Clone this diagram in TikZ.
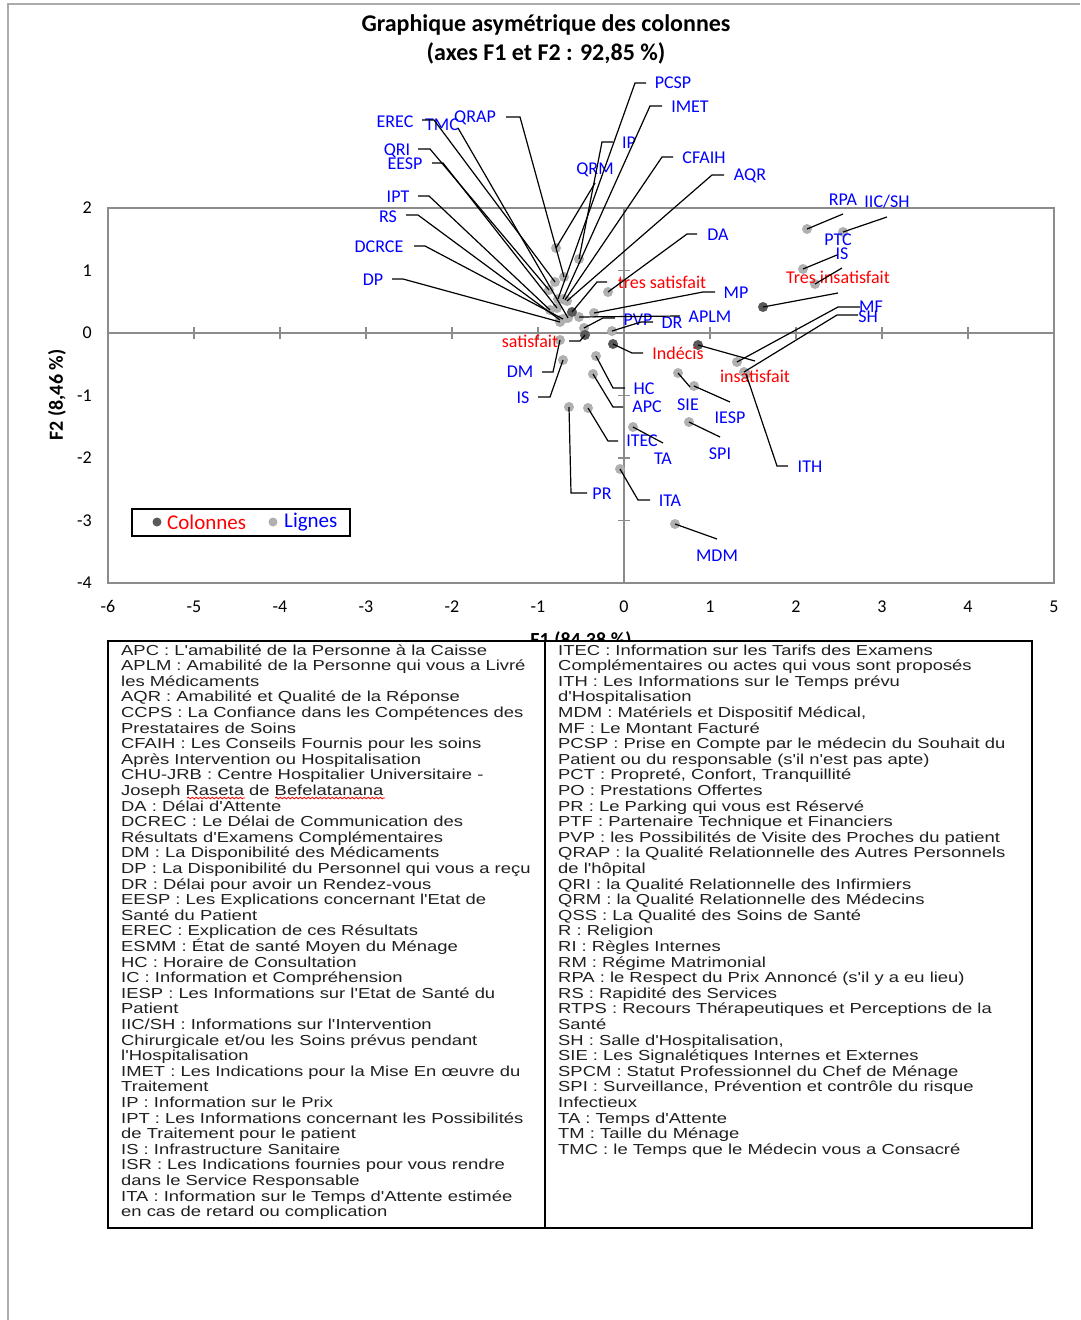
\documentclass[tikz,border=0pt]{standalone}
\usepackage{fontspec}
\setmainfont{Carlito}
\newfontfamily\tabfont[FakeStretch=1.27]{Liberation Sans}
\usetikzlibrary{decorations.pathmorphing}
\definecolor{ptlight}{HTML}{B0B0B0}
\definecolor{ptdark}{HTML}{595959}
\definecolor{lblue}{HTML}{0000FF}
\definecolor{lred}{HTML}{FF0000}
\definecolor{axisgray}{HTML}{8C8C8C}
\definecolor{framegray}{HTML}{ABABAB}
\definecolor{tabtext}{HTML}{202020}
\tikzset{
  lp/.style={circle, fill=ptlight, inner sep=0pt, minimum size=10pt},
  dp/.style={circle, fill=ptdark, inner sep=0pt, minimum size=10pt},
  bl/.style={text=lblue, font=\fontsize{18}{20}\selectfont, inner sep=0pt, text height=11.6pt, text depth=0pt},
  rl/.style={text=lred, font=\fontsize{18}{20}\selectfont, inner sep=0pt, text height=11.6pt, text depth=0pt},
  leader/.style={draw=black, line width=1.2pt},
  ticklbl/.style={font=\fontsize{18}{20}\selectfont, inner sep=0pt, text height=11.6pt, text depth=0pt},
  tabline/.style={font=\tabfont\fontsize{14.5}{15.6}\selectfont, text=tabtext, inner sep=0pt, anchor=base west},
}
\begin{document}
\begin{tikzpicture}[x=1pt,y=-1pt]
\useasboundingbox (0,0) rectangle (1080,1320);
\fill[white] (0,0) rectangle (1080,1320);
\draw[framegray, line width=1.5pt] (8,1320) -- (8,4) -- (1080,4);

% title
\node[font=\fontsize{24}{28}\selectfont\bfseries, inner sep=0pt] (title1) at (546,25) {Graphique asymétrique des colonnes};
\node[font=\fontsize{24}{28}\selectfont\bfseries, inner sep=0pt] (title2) at (546,53) {(axes F1 et F2 : 92,85 \%)};

% plot frame and axes
\draw[axisgray, line width=1.5pt] (108,208) rectangle (1054,583);
\draw[axisgray, line width=1.3pt] (108,333) -- (1054,333);
\draw[axisgray, line width=1.3pt] (624,208) -- (624,583);
\foreach \k in {-6,...,5} \draw[axisgray, line width=1.2pt] ({624+86*\k},327) -- ({624+86*\k},339);
\foreach \k in {-4,...,2} \draw[axisgray, line width=1.2pt] (618,{333-62.5*\k}) -- (630,{333-62.5*\k});
\foreach \k in {-4,...,2} \node[ticklbl, anchor=east] (ty\k) at (92,{333-62.5*\k}) {\k};
\foreach \k in {-6,...,5} \node[ticklbl] (tx\k) at ({624+86*\k},607) {\k};
\node[font=\fontsize{20}{22}\selectfont\bfseries, rotate=90, inner sep=0pt] (f2title) at (57,395) {F2 (8,46 \%)};
\node[font=\fontsize{20}{22}\selectfont\bfseries, inner sep=0pt, anchor=base] (f1title) at (581,646) {F1 (84,38 \%)};

% legend
\node[draw=black, line width=2.5pt, minimum width=218pt, minimum height=27pt, inner sep=0pt] (legend) at (241,522.5) {};
\node[dp, minimum size=9pt] (legdark) at (157,522) {};
\node[text=lred, font=\fontsize{21}{23}\selectfont, inner sep=0pt, anchor=west] (legcol) at (167,522) {Colonnes};
\node[lp, minimum size=9pt] (leglight) at (273,522) {};
\node[text=lblue, font=\fontsize{21}{23}\selectfont, inner sep=0pt, anchor=west] (leglig) at (284,522) {Lignes};

% points (light = lignes)
\node[lp] (p-QRM) at (556,248) {};
\node[lp] (p-IP) at (579,259) {};
\node[lp] (p-QRAP) at (564,277) {};
\node[lp] (p-EREC) at (555,282) {};
\node[lp] (p-QRI) at (549,290) {};
\node[lp] (p-PCSP) at (558,299) {};
\node[lp] (p-IMET) at (563,299) {};
\node[lp] (p-CFAIH) at (565,300) {};
\node[lp] (p-AQR) at (567,301) {};
\node[lp] (p-TMC) at (568,318) {};
\node[lp] (p-EESP) at (557,308) {};
\node[lp] (p-IPT) at (550,310) {};
\node[lp] (p-RS) at (560,320) {};
\node[lp] (p-DCRCE) at (563,319) {};
\node[lp] (p-DP) at (560,322) {};
\node[lp] (p-APLM) at (579,317) {};
\node[lp] (p-MP) at (594,313) {};
\node[lp] (p-PVP) at (584,328) {};
\node[lp] (p-DA) at (608,292) {};
\node[lp] (p-DR) at (612,331) {};
\node[lp] (p-DM) at (560,340) {};
\node[lp] (p-ISl) at (563,360) {};
\node[lp] (p-HC) at (596,356) {};
\node[lp] (p-APC) at (593,374) {};
\node[lp] (p-ITEC) at (588,408) {};
\node[lp] (p-PR) at (569,407) {};
\node[lp] (p-TA) at (633,427) {};
\node[lp] (p-ITA) at (620,469) {};
\node[lp] (p-MDM) at (675,524) {};
\node[lp] (p-SIE) at (678,373) {};
\node[lp] (p-IESP) at (694,386) {};
\node[lp] (p-SPI) at (689,422) {};
\node[lp] (p-MF) at (737,362) {};
\node[lp] (p-SH) at (744,372) {};
\node[lp] (p-ITH) at (746,374) {};
\node[lp] (p-RPA) at (807,229) {};
\node[lp] (p-IICSH) at (843,232) {};
\node[lp] (p-ISr) at (803,269) {};
\node[lp] (p-PTC) at (815,284) {};
% points (dark = colonnes)
\node[dp] (p-TS) at (572,312) {};
\node[dp] (p-S) at (585,335) {};
\node[dp] (p-I) at (613,344) {};
\node[dp] (p-INS) at (698,345) {};
\node[dp] (p-TI) at (763,307) {};

% labels
\node[bl] (l-PCSP) at (673,83) {PCSP};
\node[bl] (l-IMET) at (690,107) {IMET};
\node[bl] (l-IP) at (629,143) {IP};
\node[bl] (l-QRM) at (595,169) {QRM};
\node[bl] (l-CFAIH) at (704,158) {CFAIH};
\node[bl] (l-AQR) at (750,175) {AQR};
\node[bl] (l-DA) at (718,235) {DA};
\node[rl] (l-TS) at (662,283) {tres satisfait};
\node[bl] (l-MP) at (736,293) {MP};
\node[bl] (l-APLM) at (710,317) {APLM};
\node[bl] (l-PVP) at (638,320) {PVP};
\node[bl] (l-DR) at (672,323) {DR};
\node[rl] (l-S) at (530,342) {satisfait};
\node[rl] (l-I) at (678,354) {Indécis};
\node[bl] (l-DM) at (520,372) {DM};
\node[bl] (l-ISl) at (523,398) {IS};
\node[bl] (l-HC) at (644,389) {HC};
\node[bl] (l-APC) at (647,407) {APC};
\node[bl] (l-SIE) at (688,405) {SIE};
\node[bl] (l-IESP) at (730,418) {IESP};
\node[bl] (l-SPI) at (720,454) {SPI};
\node[bl] (l-ITEC) at (642,441) {ITEC};
\node[bl] (l-TA) at (663,459) {TA};
\node[bl] (l-PR) at (602,494) {PR};
\node[bl] (l-ITA) at (670,501) {ITA};
\node[bl] (l-MDM) at (717,556) {MDM};
\node[rl] (l-INS) at (755,377) {insatisfait};
\node[bl] (l-MF) at (871,307) {MF};
\node[bl] (l-SH) at (868,317) {SH};
\node[bl] (l-ITH) at (810,467) {ITH};
\node[rl] (l-TI) at (838,278) {Tres insatisfait};
\node[bl] (l-PTC) at (838,240) {PTC};
\node[bl] (l-ISr) at (842,254) {IS};
\node[bl] (l-RPA) at (843,200) {RPA};
\node[bl] (l-IICSH) at (887,202) {IIC/SH};
\node[bl] (l-EREC) at (395,122) {EREC};
\node[bl] (l-TMC) at (442,125) {TMC};
\node[bl] (l-QRAP) at (475,117) {QRAP};
\node[bl] (l-QRI) at (397,150) {QRI};
\node[bl] (l-EESP) at (405,164) {EESP};
\node[bl] (l-IPT) at (398,197) {IPT};
\node[bl] (l-RS) at (388,217) {RS};
\node[bl] (l-DCRCE) at (379,247) {DCRCE};
\node[bl] (l-DP) at (373,280) {DP};

% leader start coordinates
\coordinate (c-PCSP) at (646,83);
\coordinate (c-IMET) at (662,106);
\coordinate (c-IP) at (613,142);
\coordinate (c-QRM) at (595,183);
\coordinate (c-CFAIH) at (673,157);
\coordinate (c-AQR) at (724,175);
\coordinate (c-DA) at (697,234);
\coordinate (c-TS) at (607,282);
\coordinate (c-MP) at (715,292);
\coordinate (c-APLM) at (680,316);
\coordinate (c-PVP) at (615,318);
\coordinate (c-DR) at (653,322);
\coordinate (c-S) at (569,341);
\coordinate (c-I) at (643,353);
\coordinate (c-DM) at (542,372);
\coordinate (c-ISl) at (538,397);
\coordinate (c-HC) at (625,388);
\coordinate (c-APC) at (623,407);
\coordinate (c-SIE) at (690,387);
\coordinate (c-IESP) at (730,402);
\coordinate (c-SPI) at (720,437);
\coordinate (c-ITEC) at (618,441);
\coordinate (c-TA) at (663,443);
\coordinate (c-PR) at (587,493);
\coordinate (c-ITA) at (650,500);
\coordinate (c-MDM) at (717,539);
\coordinate (c-INS) at (755,361);
\coordinate (c-MF) at (860,307);
\coordinate (c-SH) at (858,315);
\coordinate (c-ITH) at (788,466);
\coordinate (c-TI) at (838,293);
\coordinate (c-PTC) at (842,268);
\coordinate (c-ISr) at (837,255);
\coordinate (c-RPA) at (843,214);
\coordinate (c-IICSH) at (887,217);
\coordinate (c-EREC) at (422,120);
\coordinate (c-TMC) at (458,128);
\coordinate (c-QRAP) at (506,117);
\coordinate (c-QRI) at (418,149);
\coordinate (c-EESP) at (432,163);
\coordinate (c-IPT) at (418,196);
\coordinate (c-RS) at (406,215);
\coordinate (c-DCRCE) at (414,246);
\coordinate (c-DP) at (392,279);

% leaders
\draw[leader] (c-PCSP) -- ++(-11,0) -- (p-PCSP.center);
\draw[leader] (c-IMET) -- ++(-12,0) -- (p-IMET.center);
\draw[leader] (c-IP) -- ++(-11,0) -- (p-IP.center);
\draw[leader] (c-QRM) -- (p-QRM.center);
\draw[leader] (c-CFAIH) -- ++(-11,0) -- (p-CFAIH.center);
\draw[leader] (c-AQR) -- ++(-12,0) -- (p-AQR.center);
\draw[leader] (c-DA) -- ++(-10,0) -- (p-DA.center);
\draw[leader] (c-TS) -- ++(-10,0) -- (p-TS.center);
\draw[leader] (c-MP) -- ++(-12,0) -- (p-MP.center);
\draw[leader] (c-APLM) -- (p-APLM.center);
\draw[leader] (c-PVP) -- ++(-12,0) -- (p-PVP.center);
\draw[leader] (c-DR) -- ++(-12,0) -- (p-DR.center);
\draw[leader] (c-S) -- ++(11,0) -- (p-S.center);
\draw[leader] (c-I) -- ++(-11,0) -- (p-I.center);
\draw[leader] (c-DM) -- ++(11,0) -- (p-DM.center);
\draw[leader] (c-ISl) -- ++(12,0) -- (p-ISl.center);
\draw[leader] (c-HC) -- ++(-12,0) -- (p-HC.center);
\draw[leader] (c-APC) -- ++(-10,0) -- (p-APC.center);
\draw[leader] (c-SIE) -- (p-SIE.center);
\draw[leader] (c-IESP) -- (p-IESP.center);
\draw[leader] (c-SPI) -- (p-SPI.center);
\draw[leader] (c-ITEC) -- ++(-10,0) -- (p-ITEC.center);
\draw[leader] (c-TA) -- (p-TA.center);
\draw[leader] (c-PR) -- ++(-16,0) -- (p-PR.center);
\draw[leader] (c-ITA) -- ++(-12,0) -- (p-ITA.center);
\draw[leader] (c-MDM) -- (p-MDM.center);
\draw[leader] (c-INS) -- (p-INS.center);
\draw[leader] (c-MF) -- ++(-22,0) -- (p-MF.center);
\draw[leader] (c-SH) -- ++(-21,0) -- (p-SH.center);
\draw[leader] (c-ITH) -- ++(-11,0) -- (p-ITH.center);
\draw[leader] (c-TI) -- (p-TI.center);
\draw[leader] (c-PTC) -- (p-PTC.center);
\draw[leader] (c-ISr) -- (p-ISr.center);
\draw[leader] (c-RPA) -- (p-RPA.center);
\draw[leader] (c-IICSH) -- (p-IICSH.center);
\draw[leader] (c-EREC) -- ++(12,0) -- (p-EREC.center);
\draw[leader] (c-TMC) -- (p-TMC.center);
\draw[leader] (c-QRAP) -- ++(14,0) -- (p-QRAP.center);
\draw[leader] (c-QRI) -- ++(12,0) -- (p-QRI.center);
\draw[leader] (c-EESP) -- ++(11,0) -- (p-EESP.center);
\draw[leader] (c-IPT) -- ++(11,0) -- (p-IPT.center);
\draw[leader] (c-RS) -- ++(12,0) -- (p-RS.center);
\draw[leader] (c-DCRCE) -- ++(11,0) -- (p-DCRCE.center);
\draw[leader] (c-DP) -- ++(11,0) -- (p-DP.center);

% table
\draw[fill=white, line width=1.8pt] (108,641) rectangle (1032,1228);
\draw[line width=1.6pt] (545,641) -- (545,1228);
\foreach \t [count=\i] in {
{APC : L'amabilité de la Personne à la Caisse},
{APLM : Amabilité de la Personne qui vous a Livré},
{les Médicaments},
{AQR : Amabilité et Qualité de la Réponse},
{CCPS : La Confiance dans les Compétences des},
{Prestataires de Soins},
{CFAIH : Les Conseils Fournis pour les soins},
{Après Intervention ou Hospitalisation},
{CHU-JRB : Centre Hospitalier Universitaire -},
{Joseph Raseta de Befelatanana},
{DA : Délai d'Attente},
{DCREC : Le Délai de Communication des},
{Résultats d'Examens Complémentaires},
{DM : La Disponibilité des Médicaments},
{DP : La Disponibilité du Personnel qui vous a reçu},
{DR : Délai pour avoir un Rendez-vous},
{EESP : Les Explications concernant l'Etat de},
{Santé du Patient},
{EREC : Explication de ces Résultats},
{ESMM : État de santé Moyen du Ménage},
{HC : Horaire de Consultation},
{IC : Information et Compréhension},
{IESP : Les Informations sur l'Etat de Santé du},
{Patient},
{IIC/SH : Informations sur l'Intervention},
{Chirurgicale et/ou les Soins prévus pendant},
{l'Hospitalisation},
{IMET : Les Indications pour la Mise En œuvre du},
{Traitement},
{IP : Information sur le Prix},
{IPT : Les Informations concernant les Possibilités},
{de Traitement pour le patient},
{IS : Infrastructure Sanitaire},
{ISR : Les Indications fournies pour vous rendre},
{dans le Service Responsable},
{ITA : Information sur le Temps d'Attente estimée},
{en cas de retard ou complication}}
  \node[tabline] (tl\i) at (121,{655+15.6*(\i-1)}) {\t};
\foreach \t [count=\i] in {
{ITEC : Information sur les Tarifs des Examens},
{Complémentaires ou actes qui vous sont proposés},
{ITH : Les Informations sur le Temps prévu},
{d'Hospitalisation},
{MDM : Matériels et Dispositif Médical,},
{MF : Le Montant Facturé},
{PCSP : Prise en Compte par le médecin du Souhait du},
{Patient ou du responsable (s'il n'est pas apte)},
{PCT : Propreté, Confort, Tranquillité},
{PO : Prestations Offertes},
{PR : Le Parking qui vous est Réservé},
{PTF : Partenaire Technique et Financiers},
{PVP : les Possibilités de Visite des Proches du patient},
{QRAP : la Qualité Relationnelle des Autres Personnels},
{de l'hôpital},
{QRI : la Qualité Relationnelle des Infirmiers},
{QRM : la Qualité Relationnelle des Médecins},
{QSS : La Qualité des Soins de Santé},
{R : Religion},
{RI : Règles Internes},
{RM : Régime Matrimonial},
{RPA : le Respect du Prix Annoncé (s'il y a eu lieu)},
{RS : Rapidité des Services},
{RTPS : Recours Thérapeutiques et Perceptions de la},
{Santé},
{SH : Salle d'Hospitalisation,},
{SIE : Les Signalétiques Internes et Externes},
{SPCM : Statut Professionnel du Chef de Ménage},
{SPI : Surveillance, Prévention et contrôle du risque},
{Infectieux},
{TA : Temps d'Attente},
{TM : Taille du Ménage},
{TMC : le Temps que le Médecin vous a Consacré}}
  \node[tabline] (tr\i) at (558,{655+15.6*(\i-1)}) {\t};
% spell-check marks
\draw[lred, line width=0.8pt, decorate, decoration={snake, amplitude=0.8pt, segment length=4pt}] (187,798) -- (245,798);
\draw[lred, line width=0.8pt, decorate, decoration={snake, amplitude=0.8pt, segment length=4pt}] (275,798) -- (385,798);
\end{tikzpicture}
\end{document}
